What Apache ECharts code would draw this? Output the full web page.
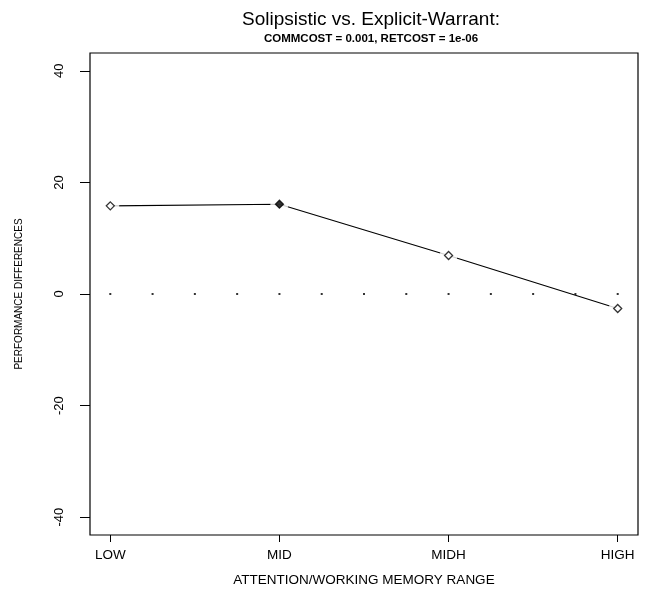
<!DOCTYPE html>
<html>
<head>
<meta charset="utf-8">
<script src="https://cdn.jsdelivr.net/npm/echarts@6/dist/echarts.min.js"></script>
<style>
  html, body { margin: 0; padding: 0; background: #fff; }
  #chart { width: 647px; height: 592px; }
</style>
</head>
<body>
<div id="chart"></div>
<script>
// categories along the x axis (placed at 1..4 like R does)
var categories = ['LOW', 'MID', 'MIDH', 'HIGH'];
var perfDiff = [15.8, 16.1, 6.9, -2.6];
var yTicks = [-40, -20, 0, 20, 40];
// dotted zero reference line, one dot every quarter step
var zeroDotsX = [1, 1.25, 1.5, 1.75, 2, 2.25, 2.5, 2.75, 3, 3.25, 3.5, 3.75, 4];

var xTicks = categories.map(function (c, i) { return i + 1; });
var lineData = perfDiff.map(function (v, i) { return [i + 1, v]; });
var zeroData = zeroDotsX.map(function (x) { return [x, 0]; });

var font = 'Liberation Sans, Arial, Helvetica, sans-serif';
var chart = echarts.init(document.getElementById('chart'));

var option = {
    animation: false,
    backgroundColor: '#fff',
    title: {
        text: 'Solipsistic vs. Explicit-Warrant:',
        subtext: 'COMMCOST = 0.001, RETCOST = 1e-06',
        left: 366,
        textAlign: 'center',
        top: 5,
        itemGap: 4,
        textStyle: { fontFamily: font, fontSize: 19, fontWeight: 'normal', color: '#000' },
        subtextStyle: { fontFamily: font, fontSize: 11.5, fontWeight: 'bold', color: '#000' }
    },
    grid: {
        left: 90,
        right: 9,
        top: 53,
        bottom: 54,
        show: true,
        borderColor: '#000',
        borderWidth: 1.2,
        backgroundColor: 'transparent'
    },
    xAxis: {
        type: 'value',
        min: 0.88,
        max: 4.12,
        name: 'ATTENTION/WORKING MEMORY RANGE',
        nameLocation: 'middle',
        nameGap: 38,
        nameTextStyle: { fontFamily: font, fontSize: 13.5, color: '#000' },
        axisLine: { show: false, onZero: false },
        splitLine: { show: false },
        axisTick: { show: true, inside: false, length: 7, customValues: xTicks, lineStyle: { color: '#000' } },
        axisLabel: {
            customValues: xTicks,
            margin: 13,
            fontFamily: font,
            fontSize: 13.5,
            color: '#000',
            formatter: function (v) { return categories[Math.round(v) - 1]; }
        }
    },
    yAxis: {
        type: 'value',
        min: -43.2,
        max: 43.2,
        name: 'PERFORMANCE DIFFERENCES',
        nameLocation: 'middle',
        nameGap: 66,
        nameRotate: 90,
        nameTextStyle: { fontFamily: font, fontSize: 10, color: '#000' },
        axisLine: { show: false, onZero: false },
        splitLine: { show: false },
        axisTick: { show: true, inside: false, length: 10, customValues: yTicks, lineStyle: { color: '#000' } },
        axisLabel: {
            customValues: yTicks,
            rotate: 90,
            margin: 24,
            fontFamily: font,
            fontSize: 13,
            color: '#000'
        }
    },
    series: [
        {
            type: 'line',
            data: lineData,
            showSymbol: false,
            lineStyle: { color: '#000', width: 1.1 },
            z: 2
        },
        {
            // white halo so the line stops short of each point
            type: 'scatter',
            data: lineData,
            symbol: 'circle',
            symbolSize: 18,
            itemStyle: { color: '#fff' },
            z: 3
        },
        {
            type: 'scatter',
            data: lineData,
            symbol: 'diamond',
            symbolSize: [8, 8],
            itemStyle: {
                color: function (p) { return p.dataIndex === 1 ? '#000' : '#fff'; },
                borderColor: '#000',
                borderWidth: 1.3
            },
            z: 4
        },
        {
            type: 'scatter',
            data: zeroData,
            symbol: 'rect',
            symbolSize: 2,
            itemStyle: { color: '#000' },
            z: 4
        }
    ]
};

chart.setOption(option);
</script>
</body>
</html>
